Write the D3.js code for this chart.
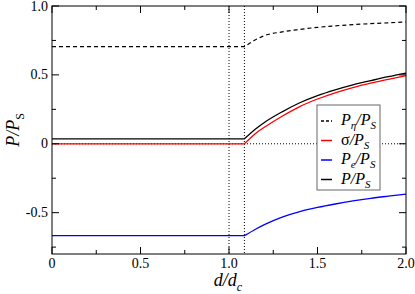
<!DOCTYPE html>
<html>
<head>
<meta charset="utf-8">
<script src="https://cdn.jsdelivr.net/npm/d3@7"></script>
<style>
  body { margin: 0; background: #fff; }
</style>
</head>
<body>
<svg id="chart" width="415" height="294"></svg>
<script>
// values
const dKink = 1.087
const dGrow = [1.087, 1.15, 1.2, 1.3, 1.4, 1.5, 1.6, 1.7, 1.8, 1.9, 2.0]
const pEta = [0.705, 0.755, 0.785, 0.812, 0.83, 0.845, 0.856, 0.865, 0.872, 0.878, 0.884]
const sigma = [0.0, 0.075, 0.12, 0.2, 0.27, 0.325, 0.37, 0.408, 0.44, 0.468, 0.495]
const pE = [-0.667, -0.62, -0.587, -0.532, -0.492, -0.462, -0.437, -0.415, -0.396, -0.38, -0.365]
const pTotal = [0.036, 0.108, 0.155, 0.232, 0.298, 0.35, 0.392, 0.428, 0.458, 0.487, 0.513]
const xTicks = [0, 0.5, 1.0, 1.5, 2.0]
const xTickLabels = ['0', '0.5', '1.0', '1.5', '2.0']
const yTicks = [-0.5, 0, 0.5, 1.0]
const yTickLabels = ['-0.5', '0', '0.5', '1.0']
const xMinor = [0.25, 0.75, 1.25, 1.75]
const yMinor = [-0.75, -0.25, 0.25, 0.75]
const vLines = [1.0, dKink]

const serif = 'Liberation Serif'
const svg = d3.select('#chart')
const x = d3.scaleLinear().domain([0, 2]).range([52, 406])
const y = d3.scaleLinear().domain([-0.8, 1.0]).range([254, 6])

// dotted guides
svg.selectAll('.vguide')
    .data(vLines)
    .enter()
    .append('line')
    .attr('x1', d => x(d))
    .attr('x2', d => x(d))
    .attr('y1', y(1.0))
    .attr('y2', y(-0.8))
    .attr('stroke', '#000')
    .attr('stroke-width', 1)
    .attr('stroke-dasharray', '1,2')

svg.append('line')
    .attr('x1', x(0))
    .attr('x2', x(2))
    .attr('y1', y(0))
    .attr('y2', y(0))
    .attr('stroke', '#000')
    .attr('stroke-width', 1)
    .attr('stroke-dasharray', '1,2')

const series = [
    { vals: pEta, color: '#000', dash: '4,3', width: 1.2 },
    { vals: sigma, color: '#ff0000', dash: null, width: 1.3 },
    { vals: pE, color: '#0000ff', dash: null, width: 1.3 },
    { vals: pTotal, color: '#000', dash: null, width: 1.3 }
]

const lineGrow = d3.line()
    .x(d => x(d[0]))
    .y(d => y(d[1]))
    .curve(d3.curveMonotoneX)

series.forEach(s => {
    const pts = dGrow.map((d, i) => [d, s.vals[i]])
    // flat part then curved rise
    const path = 'M' + x(0) + ',' + y(s.vals[0]) + 'L' + lineGrow(pts).slice(1)
    svg.append('path')
        .attr('d', path)
        .attr('fill', 'none')
        .attr('stroke', s.color)
        .attr('stroke-width', s.width)
        .attr('stroke-dasharray', s.dash)
})

// frame
svg.append('rect')
    .attr('x', x(0))
    .attr('y', y(1.0))
    .attr('width', x(2) - x(0))
    .attr('height', y(-0.8) - y(1.0))
    .attr('fill', 'none')
    .attr('stroke', '#000')
    .attr('stroke-width', 1)

// ticks on all four sides, pointing in
const tickGroup = svg.append('g').attr('stroke', '#000').attr('stroke-width', 1)
function xTick(v, len) {
    tickGroup.append('line').attr('x1', x(v)).attr('x2', x(v)).attr('y1', y(-0.8)).attr('y2', y(-0.8) - len)
    tickGroup.append('line').attr('x1', x(v)).attr('x2', x(v)).attr('y1', y(1.0)).attr('y2', y(1.0) + len)
}
function yTick(v, len) {
    tickGroup.append('line').attr('x1', x(0)).attr('x2', x(0) + len).attr('y1', y(v)).attr('y2', y(v))
    tickGroup.append('line').attr('x1', x(2)).attr('x2', x(2) - len).attr('y1', y(v)).attr('y2', y(v))
}
xTicks.forEach(v => xTick(v, 7))
xMinor.forEach(v => xTick(v, 4))
yTicks.forEach(v => yTick(v, 7))
yMinor.forEach(v => yTick(v, 4))

svg.selectAll('.xlab')
    .data(xTicks)
    .enter()
    .append('text')
    .style('font-family', serif)
    .style('font-size', '14px')
    .attr('x', d => x(d))
    .attr('y', 268)
    .attr('text-anchor', 'middle')
    .text((d, i) => xTickLabels[i])

svg.selectAll('.ylab')
    .data(yTicks)
    .enter()
    .append('text')
    .style('font-family', serif)
    .style('font-size', '14px')
    .attr('x', 48)
    .attr('y', d => y(d) + 4.5)
    .attr('text-anchor', 'end')
    .text((d, i) => yTickLabels[i])

// axis titles
const xTitle = svg.append('text')
    .style('font-family', serif)
    .style('font-size', '18px')
    .style('font-style', 'italic')
    .attr('x', 228)
    .attr('y', 286)
    .attr('text-anchor', 'middle')
xTitle.append('tspan').text('d/d')
xTitle.append('tspan').style('font-size', '12px').attr('dy', 5).text('c')

const yTitle = svg.append('text')
    .style('font-family', serif)
    .style('font-size', '18px')
    .style('font-style', 'italic')
    .attr('transform', 'translate(19,130) rotate(-90)')
    .attr('text-anchor', 'middle')
yTitle.append('tspan').text('P/P')
yTitle.append('tspan').style('font-size', '12px').style('font-style', 'normal').attr('dy', 5).text('S')

// legend
const legend = svg.append('g')
legend.append('rect')
    .attr('x', 317)
    .attr('y', 105)
    .attr('width', 63)
    .attr('height', 85)
    .attr('fill', '#fff')
    .attr('stroke', '#666')
    .attr('stroke-width', 1)

const legendRows = [
    { main: 'P', sub: 'η', italic: true, color: '#000', dash: '3,2' },
    { main: 'σ', sub: null, italic: false, color: '#ff0000', dash: null },
    { main: 'P', sub: 'e', italic: true, color: '#0000ff', dash: null },
    { main: 'P', sub: null, italic: true, color: '#000', dash: null }
]
legendRows.forEach((r, i) => {
    const ry = 121 + i * 19.5
    legend.append('line')
        .attr('x1', 321).attr('x2', 332)
        .attr('y1', ry).attr('y2', ry)
        .attr('stroke', r.color)
        .attr('stroke-width', 1.5)
        .attr('stroke-dasharray', r.dash)
    const t = legend.append('text')
        .style('font-family', serif)
        .style('font-size', '16px')
        .attr('x', 341)
        .attr('y', ry + 4)
    t.append('tspan').style('font-style', r.italic ? 'italic' : 'normal').text(r.main)
    if (r.sub) t.append('tspan').style('font-size', '11px').style('font-style', 'italic').attr('dy', 4).text(r.sub)
    t.append('tspan').style('font-style', 'italic').attr('dy', r.sub ? -4 : 0).text('/P')
    t.append('tspan').style('font-size', '11px').style('font-style', 'italic').attr('dy', 4).text('S')
})
</script>
</body>
</html>
